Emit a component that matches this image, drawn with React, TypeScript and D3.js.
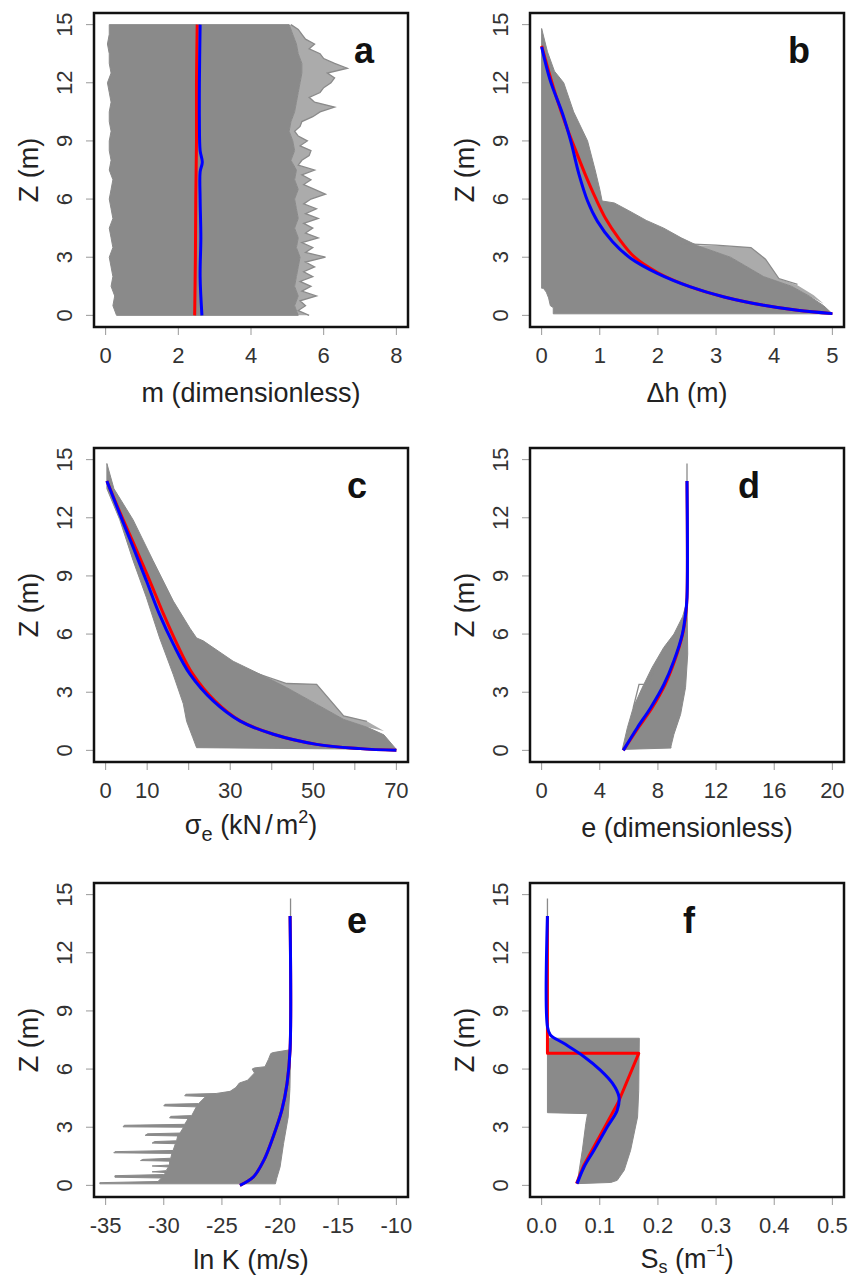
import React from "react";
import * as d3 from "d3";

type Pt = [number, number]; // [x value, Z (m)]

const zTicks = [0, 3, 6, 9, 12, 15];

// ---- panel a: m (dimensionless)
const aLeftEdge: Pt[] = [[0.3,0],[0.2,0.5],[0.25,1],[0.15,1.5],[0.2,2],[0.15,2.5],[0.1,3],[0.2,3.5],[0.15,4],[0.1,4.5],[0.2,5],[0.15,5.5],[0.1,6],[0.15,6.5],[0.2,7],[0.1,7.5],[0.15,8],[0.1,8.5],[0.1,9],[0.15,9.5],[0.1,10],[0.1,10.5],[0.15,11],[0.1,11.5],[0.05,12],[0.15,12.5],[0.1,13],[0.1,13.5],[0.05,14],[0.1,14.5],[0.1,15]];
const aInnerEdge: Pt[] = [[5.3,0],[5.2,0.5],[5.3,1],[5.2,1.5],[5.25,2],[5.3,2.5],[5.35,3],[5.25,3.5],[5.3,4],[5.2,4.5],[5.3,5],[5.25,5.5],[5.2,6],[5.3,6.5],[5.2,7],[5.25,7.5],[5.1,8],[5.2,8.5],[5.15,9],[5.05,9.5],[5.1,10],[5.2,10.5],[5.25,11],[5.3,11.5],[5.35,12],[5.4,12.5],[5.4,13],[5.3,13.5],[5.25,14],[5.15,14.5],[5.05,15]];
const aOuterEdge: Pt[] = [[5.6,0],[5.3,0.25],[5.5,0.5],[5.35,0.75],[5.8,1],[5.4,1.25],[5.65,1.5],[5.35,1.75],[5.7,2],[5.45,2.25],[5.75,2.5],[5.5,2.75],[6.05,3],[5.5,3.25],[5.7,3.5],[5.4,3.75],[5.85,4],[5.5,4.25],[5.7,4.5],[5.45,4.75],[5.85,5],[5.5,5.25],[5.8,5.5],[5.45,5.75],[5.65,6],[6.05,6.25],[5.75,6.5],[5.45,6.75],[5.65,7],[5.4,7.25],[5.75,7.5],[5.3,7.75],[5.4,8],[5.6,8.25],[5.65,8.5],[5.35,8.75],[5.55,9],[5.3,9.25],[5.2,9.5],[5.35,9.75],[5.4,10],[5.7,10.25],[5.9,10.5],[6.3,10.75],[5.75,11],[5.6,11.25],[5.9,11.5],[6.0,11.75],[6.2,12],[6.3,12.25],[6.1,12.5],[6.65,12.75],[6.3,13],[6.0,13.25],[5.9,13.5],[5.6,13.75],[5.75,14],[5.5,14.25],[5.4,14.5],[5.3,14.75],[5.1,15]];
const aRed: Pt[] = [[2.45,0],[2.47,3],[2.48,6],[2.5,9],[2.5,12],[2.52,15]];
const aBlue: Pt[] = [[2.65,0],[2.6,2],[2.62,4],[2.6,6],[2.6,7.4],[2.66,7.9],[2.6,8.5],[2.58,10],[2.58,12],[2.6,15]];

// ---- panel b: delta h (m)
const bDense: Pt[] = [[0,14.8],[0.1,13.6],[0.22,12.6],[0.38,12.0],[0.55,10.5],[0.79,9.0],[0.92,7.5],[1.0,6.5],[1.04,5.9],[1.25,5.8],[1.5,5.4],[1.8,4.9],[2.1,4.5],[2.4,4.0],[2.68,3.6],[3.25,3.0],[3.82,2.0],[4.3,1.5],[4.6,1.0],[4.85,0.5],[5.0,0.08],[0.2,0.08],[0.2,0.4],[0.15,0.5],[0.12,0.9],[0.08,1.2],[0.03,1.4],[0,1.4]];
const bSparse: Pt[] = [[2.68,3.6],[3.0,3.6],[3.6,3.5],[3.85,2.9],[4.08,1.9],[4.4,1.56],[4.68,1.04],[4.85,0.6],[4.6,1.0],[4.3,1.5],[3.82,2.0],[3.25,3.0]];
const bOutlier: Pt[] = [[2.4,3.7],[3.0,3.62],[3.6,3.5],[3.85,2.9],[4.08,1.9],[4.4,1.6]];
const bRed: Pt[] = [[0,13.9],[0.12,12.6],[0.26,11.2],[0.42,9.8],[0.6,8.4],[0.76,7.2],[0.92,6.1],[1.1,5.0],[1.32,4.0],[1.6,3.0],[2.0,2.2],[2.56,1.47],[3.14,0.95],[3.82,0.52],[4.4,0.26],[5.0,0.09]];
const bBlue: Pt[] = [[0,13.85],[0.15,12.1],[0.36,10.4],[0.5,9.0],[0.64,7.3],[0.79,5.9],[0.96,4.85],[1.22,3.8],[1.53,2.95],[1.99,2.17],[2.56,1.47],[3.14,0.95],[3.82,0.52],[4.4,0.26],[5.0,0.09]];

// ---- panel c: effective stress (kN/m2)
const cDense: Pt[] = [[0.3,14.8],[2.0,13.5],[6.6,11.9],[11.4,9.8],[16.3,7.7],[20.3,6.3],[21.9,5.8],[23.5,5.65],[30.7,4.6],[38.8,3.76],[43.6,3.24],[50.8,2.38],[57.3,1.6],[62.9,1.2],[67,0.8],[70,0.05],[21.9,0.14],[21.0,0.65],[19.5,1.5],[18.7,2.4],[16.3,3.9],[13,5.8],[9.8,7.9],[6.6,9.8],[3.4,11.9],[0.3,13.5]];
const cSparse: Pt[] = [[38.8,3.76],[43.6,3.45],[50.8,3.41],[57.3,1.78],[62.9,1.5],[67,1.0],[62.9,1.2],[57.3,1.6],[50.8,2.38],[43.6,3.24]];
const cOutlier: Pt[] = [[36,4.0],[43.6,3.45],[50.8,3.41],[57.3,1.78],[62.9,1.5]];
const cRed: Pt[] = [[0.3,13.9],[3.6,12.2],[7.1,10.5],[10.6,8.76],[14.0,7.0],[17.2,5.48],[21.0,3.93],[26.3,2.55],[32.4,1.52],[40.4,0.83],[50.8,0.31],[61.3,0.09],[70,0]];
const cBlue: Pt[] = [[0.3,13.9],[3.4,12.2],[6.6,10.5],[9.8,8.76],[13,7.0],[16.3,5.48],[20.3,3.93],[25.9,2.55],[32.3,1.52],[40.4,0.83],[50.8,0.31],[61.3,0.09],[70,0]];

// ---- panel d: e (dimensionless)
const dDense: Pt[] = [[5.55,0.05],[5.9,1.17],[6.3,2.2],[6.9,3.2],[7.6,4.28],[8.4,5.31],[9.1,6.0],[9.7,6.9],[10.0,7.7],[10.05,4.97],[9.9,3.24],[9.56,1.86],[9.1,0.83],[8.9,0.22],[8.9,0.12]];
const dTop: Pt[] = [[10,7.7],[10,14.8]];
const dOutlier: Pt[] = [[6.3,2.2],[6.7,3.41],[7.4,3.41],[7.7,4.1]];
const dRed: Pt[] = [[5.62,0],[6.65,1.17],[7.6,2.2],[8.5,3.41],[9.15,4.62],[9.7,6.0],[9.92,7.03],[10,7.9],[10,13.9]];
const dBlue: Pt[] = [[5.62,0],[6.58,1.17],[7.5,2.2],[8.42,3.41],[9.1,4.62],[9.68,6.0],[9.9,7.03],[10,7.9],[10,13.9]];

// ---- panel e: ln K (m/s)
const eDense: Pt[] = [[-19.1,7.0],[-19.15,5.0],[-19.3,3.53],[-19.7,2.16],[-20.0,0.95],[-20.3,0.34],[-20.4,0.08],[-35.5,0.08],[-35.5,0.14],[-30.5,0.2],[-30.2,0.38],[-34.2,0.42],[-34.2,0.5],[-30,0.56],[-29.8,0.66],[-31,0.7],[-29.8,0.76],[-29.6,0.95],[-31,1.0],[-29.5,1.05],[-29.5,1.25],[-32,1.28],[-31.8,1.34],[-29.4,1.4],[-29.3,1.65],[-34.3,1.68],[-34.2,1.74],[-29.2,1.8],[-29.0,2.15],[-31,2.18],[-30.8,2.26],[-28.9,2.3],[-28.8,2.55],[-31.6,2.58],[-31.4,2.66],[-28.6,2.7],[-28.3,3.0],[-33.5,3.02],[-33.4,3.1],[-28.2,3.15],[-27.9,3.45],[-29.5,3.48],[-29.4,3.56],[-27.6,3.6],[-27.2,4.05],[-30,4.1],[-29.9,4.18],[-27,4.22],[-26.4,4.58],[-28.2,4.62],[-28.1,4.7],[-25.5,4.74],[-24.3,4.85],[-23.8,5.05],[-23.5,5.28],[-22.8,5.42],[-22.2,5.8],[-22.4,6.0],[-22.2,6.06],[-21.3,6.12],[-21,6.5],[-20.8,6.8],[-20.6,6.85]];
const eTop: Pt[] = [[-19.1,7.0],[-19.1,14.8]];
const eRed: Pt[] = [[-19.14,13.9],[-19.14,7.0],[-19.4,5.26],[-19.85,3.88],[-20.6,2.5],[-21.4,1.29],[-22.3,0.43],[-23.45,0]];
const eBlue: Pt[] = [[-19.14,13.9],[-19.14,7.0],[-19.4,5.26],[-19.85,3.88],[-20.6,2.5],[-21.4,1.29],[-22.3,0.43],[-23.45,0]];

// ---- panel f: Ss (1/m)
const fDense: Pt[] = [[0.01,7.59],[0.168,7.59],[0.167,4.9],[0.165,3.53],[0.153,1.81],[0.142,0.78],[0.13,0.26],[0.119,0.15],[0.061,0.09],[0.07,1.81],[0.076,3.19],[0.079,3.7],[0.01,3.75]];
const fTop: Pt[] = [[0.01,7.59],[0.01,14.8]];
const fRed: Pt[] = [[0.01,13.9],[0.01,6.81],[0.167,6.81],[0.132,4.3],[0.112,3.2],[0.09,2.0],[0.072,1.0],[0.06,0.09]];
const fBlue: Pt[] = [[0.01,13.9],[0.01,8.2],[0.015,7.76],[0.038,7.33],[0.073,6.64],[0.101,5.95],[0.122,5.26],[0.133,4.57],[0.13,3.88],[0.113,3.02],[0.09,1.81],[0.073,0.95],[0.061,0.09]];

// x axes
const aTicks = [0, 2, 4, 6, 8];
const bTicks = [0, 1, 2, 3, 4, 5];
const cTicks = [0, 10, 20, 30, 40, 50, 60, 70];
const cTickLabels = ["0", "10", "", "30", "", "50", "", "70"];
const dTicks = [0, 4, 8, 12, 16, 20];
const eTicks = [-35, -30, -25, -20, -15, -10];
const fTicks = [0, 0.1, 0.2, 0.3, 0.4, 0.5];
const fTickLabels = ["0.0", "0.1", "0.2", "0.3", "0.4", "0.5"];

const GRAY = "#8a8a8a";
const FONT = "'Liberation Sans', Arial, Helvetica, sans-serif";
const COL_LEFT = [94, 530];
const ROW_TOP = [13, 448, 883];
const BOX = 314;

const titleA = <tspan>m (dimensionless)</tspan>;
const titleB = <tspan>Δh (m)</tspan>;
const titleC = (
  <>
    <tspan>σ</tspan>
    <tspan dy={7} fontSize={20}>e</tspan>
    <tspan dy={-7}> (kN</tspan>
    <tspan dx={3}>/</tspan>
    <tspan dx={3}>m</tspan>
    <tspan dy={-11} fontSize={18}>2</tspan>
    <tspan dy={11}>)</tspan>
  </>
);
const titleD = <tspan>e (dimensionless)</tspan>;
const titleE = <tspan>ln K (m/s)</tspan>;
const titleF = (
  <>
    <tspan>S</tspan>
    <tspan dy={5} fontSize={18}>s</tspan>
    <tspan dy={-5}> (m</tspan>
    <tspan dy={-12} fontSize={16}>−1</tspan>
    <tspan dy={12}>)</tspan>
  </>
);

const panels = [
  { id: "a", col: 0, row: 0, xlim: [0, 8], ticks: aTicks, labels: aTicks.map(String), title: titleA, titleDy: 75, letterDx: 270,
    fills: [[...aLeftEdge, ...[...aInnerEdge].reverse()]], sparse: [[...aInnerEdge, ...[...aOuterEdge].reverse()]], strokes: [aOuterEdge], red: aRed, blue: aBlue, redSmooth: true },
  { id: "b", col: 1, row: 0, xlim: [0, 5], ticks: bTicks, labels: bTicks.map(String), title: titleB, titleDy: 75, letterDx: 269,
    fills: [bDense], sparse: [bSparse], strokes: [bOutlier], red: bRed, blue: bBlue, redSmooth: true },
  { id: "c", col: 0, row: 1, xlim: [0, 70], ticks: cTicks, labels: cTickLabels, title: titleC, titleDy: 72, letterDx: 263,
    fills: [cDense], sparse: [cSparse], strokes: [cOutlier], red: cRed, blue: cBlue, redSmooth: true },
  { id: "d", col: 1, row: 1, xlim: [0, 20], ticks: dTicks, labels: dTicks.map(String), title: titleD, titleDy: 75, letterDx: 219,
    fills: [dDense], sparse: [], strokes: [dTop, dOutlier], red: dRed, blue: dBlue, redSmooth: true },
  { id: "e", col: 0, row: 2, xlim: [-35, -10], ticks: eTicks, labels: eTicks.map(String), title: titleE, titleDy: 72, letterDx: 263,
    fills: [eDense], sparse: [], strokes: [eTop], red: eRed, blue: eBlue, redSmooth: true },
  { id: "f", col: 1, row: 2, xlim: [0, 0.5], ticks: fTicks, labels: fTickLabels, title: titleF, titleDy: 71, letterDx: 159,
    fills: [fDense], sparse: [], strokes: [fTop], red: fRed, blue: fBlue, redSmooth: false },
];

function Panel({ p }: { p: any }) {
  const left = COL_LEFT[p.col];
  const top = ROW_TOP[p.row];
  const pad = (p.xlim[1] - p.xlim[0]) * 0.04;
  const x = d3.scaleLinear().domain([p.xlim[0] - pad, p.xlim[1] + pad]).range([left, left + BOX]);
  const y = d3.scaleLinear().domain([-0.6, 15.6]).range([top + BOX, top]);
  const straight = d3.line<Pt>().x((d) => x(d[0])).y((d) => y(d[1]));
  const smooth = d3
    .line<Pt>()
    .x((d) => x(d[0]))
    .y((d) => y(d[1]))
    .curve(d3.curveCatmullRom.alpha(0.5));
  const clipId = `clip-${p.id}`;
  const bottom = top + BOX;

  return (
    <g>
      <defs>
        <clipPath id={clipId}>
          <rect x={left} y={top} width={BOX} height={BOX} />
        </clipPath>
      </defs>
      <g clipPath={`url(#${clipId})`}>
        {p.fills.map((pts: Pt[], i: number) => (
          <path key={`f${i}`} d={straight(pts) + "Z"} fill={GRAY} stroke={GRAY} strokeWidth={1} strokeLinejoin="round" />
        ))}
        {p.sparse.map((pts: Pt[], i: number) => (
          <path key={`s${i}`} d={straight(pts) + "Z"} fill={GRAY} fillOpacity={0.72} stroke="none" />
        ))}
        {p.strokes.map((pts: Pt[], i: number) => (
          <path key={`l${i}`} d={straight(pts) || ""} fill="none" stroke={GRAY} strokeWidth={1.3} />
        ))}
        <path d={(p.redSmooth ? smooth(p.red) : straight(p.red)) || ""} fill="none" stroke="#ff0000" strokeWidth={3} strokeLinejoin="round" />
        <path d={smooth(p.blue) || ""} fill="none" stroke="#0000ff" strokeWidth={3} strokeLinejoin="round" />
      </g>

      {/* y axis */}
      {zTicks.map((t) => (
        <g key={`y${t}`}>
          <line x1={left - 8} x2={left} y1={y(t)} y2={y(t)} stroke="#999" strokeWidth={1} />
          <text
            transform={`translate(${left - 22},${y(t)}) rotate(-90)`}
            textAnchor="middle"
            fontSize={22}
            fill="#333"
          >
            {t}
          </text>
        </g>
      ))}
      <text
        transform={`translate(${left - 56},${top + BOX / 2}) rotate(-90)`}
        textAnchor="middle"
        fontSize={27}
        fill="#222"
      >
        Z (m)
      </text>

      {/* x axis */}
      {p.ticks.map((t: number, i: number) => (
        <g key={`x${t}`}>
          <line x1={x(t)} x2={x(t)} y1={bottom} y2={bottom + 8} stroke="#999" strokeWidth={1} />
          <text x={x(t)} y={bottom + 36} textAnchor="middle" fontSize={22} fill="#333">
            {p.labels[i]}
          </text>
        </g>
      ))}
      <text x={left + BOX / 2} y={bottom + p.titleDy} textAnchor="middle" fontSize={27} fill="#222">
        {p.title}
      </text>

      <rect x={left} y={top} width={BOX} height={BOX} fill="none" stroke="#111" strokeWidth={2.5} />
      <text x={left + p.letterDx} y={top + 50} textAnchor="middle" fontSize={36} fontWeight="bold" fill="#111">
        {p.id}
      </text>
    </g>
  );
}

export default function App() {
  return (
    <svg
      width={862}
      height={1277}
      style={{ position: "absolute", left: 0, top: 0, background: "#fff" }}
      fontFamily={FONT}
    >
      <rect width={862} height={1277} fill="#fff" />
      {panels.map((p) => (
        <Panel key={p.id} p={p} />
      ))}
    </svg>
  );
}
